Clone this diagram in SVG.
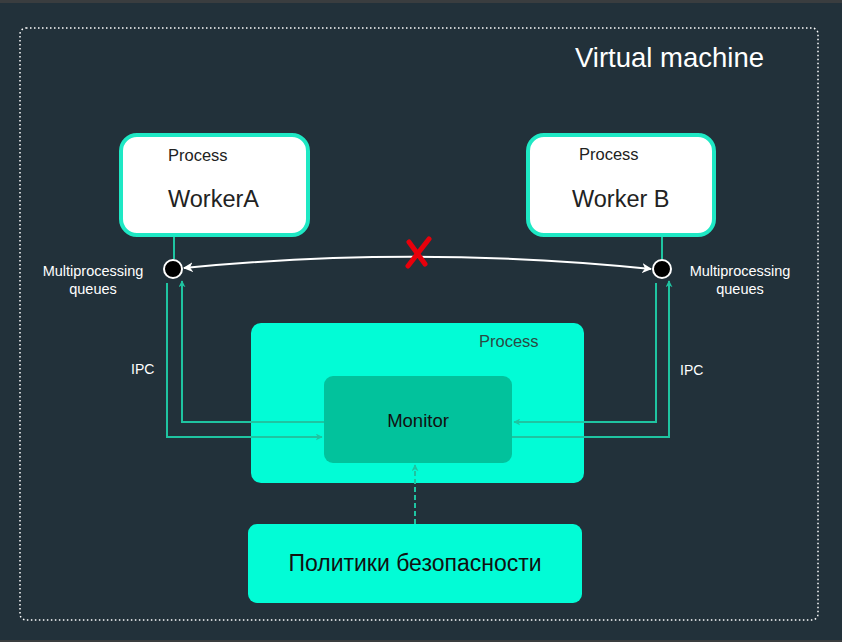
<svg xmlns="http://www.w3.org/2000/svg" width="842" height="642" viewBox="0 0 842 642">
<style>
text{font-family:"Liberation Sans",Arial,sans-serif}
.w{fill:#ffffff}
.conn{fill:none;stroke:#1fc4a1;stroke-width:2}
.worker{fill:#ffffff;stroke:#1ee8c4;stroke-width:4}
.q{fill:#000;stroke:#fff;stroke-width:2}
</style>
<defs>
<marker id="ta" viewBox="0 0 10 10" refX="9" refY="5" markerWidth="7" markerHeight="7" orient="auto-start-reverse" markerUnits="userSpaceOnUse">
<path d="M0,0 L10,5 L0,10 L3,5 Z" fill="#1fc4a1"/>
</marker>
<marker id="wa" viewBox="0 0 10 10" refX="9" refY="5" markerWidth="10" markerHeight="10" orient="auto-start-reverse" markerUnits="userSpaceOnUse">
<path d="M0,0 L10,5 L0,10 L3,5 Z" fill="#ffffff"/>
</marker>
</defs>
<rect x="0" y="0" width="842" height="642" fill="#3a3d3f"/>
<rect x="0" y="3" width="842" height="637" fill="#22313a"/>
<g id="vm">
<rect x="20" y="28" width="798" height="592" rx="6" fill="none" stroke="#ffffff" stroke-width="1.5" stroke-dasharray="1.5 2.5"/>
<text x="575" y="67" font-size="27.5" class="w">Virtual machine</text>
</g>
<g id="workerA">
<rect x="121" y="135" width="187" height="100" rx="16" class="worker"/>
<text x="168" y="161" font-size="16.5" fill="#222">Process</text>
<text x="168" y="207" font-size="23.5" fill="#222">WorkerA</text>
</g>
<g id="workerB">
<rect x="528" y="135" width="186" height="100" rx="16" class="worker"/>
<text x="579" y="160" font-size="16.5" fill="#222">Process</text>
<text x="572" y="207" font-size="23.5" fill="#222">Worker B</text>
</g>
<g id="process">
<rect x="251" y="323" width="333" height="160" rx="10" fill="#02fcd6"/>
<text x="479" y="347" font-size="16.5" fill="#2a4a44">Process</text>
</g>
<g id="monitor">
<rect x="324" y="376" width="188" height="87" rx="9" fill="#02c29c"/>
<text x="418" y="427" font-size="18.5" text-anchor="middle" fill="#111">Monitor</text>
</g>
<g id="policies">
<rect x="248" y="524" width="334" height="79" rx="9" fill="#02fcd6"/>
<text x="415" y="571" font-size="23" text-anchor="middle" fill="#111">Политики безопасности</text>
</g>
<g id="connectors">
<line x1="174" y1="237" x2="174" y2="259" class="conn"/>
<line x1="662" y1="237" x2="662" y2="259" class="conn"/>
<path d="M167,283 V437 H322" class="conn" marker-end="url(#ta)"/>
<path d="M324,422 H182 V281" class="conn" marker-end="url(#ta)"/>
<path d="M512,437 H669 V281" class="conn" marker-end="url(#ta)"/>
<path d="M656,283 V422 H514" class="conn" marker-end="url(#ta)"/>
<line x1="415" y1="524" x2="415" y2="465" class="conn" stroke-dasharray="5 3" marker-end="url(#ta)"/>
<path d="M184,268 Q417,245 651,269" fill="none" stroke="#ffffff" stroke-width="2" marker-start="url(#wa)" marker-end="url(#wa)"/>
<g stroke="#e8000b" stroke-width="5" stroke-linecap="round">
<line x1="409" y1="242" x2="425" y2="264"/>
<line x1="429" y1="239" x2="408" y2="266"/>
</g>
</g>
<g id="queueA">
<circle cx="173" cy="269" r="9" class="q"/>
<text x="93" y="276" font-size="14.5" text-anchor="middle" class="w">Multiprocessing</text>
<text x="93" y="294" font-size="14.5" text-anchor="middle" class="w">queues</text>
</g>
<g id="queueB">
<circle cx="662" cy="269" r="9" class="q"/>
<text x="740" y="276" font-size="14.5" text-anchor="middle" class="w">Multiprocessing</text>
<text x="740" y="294" font-size="14.5" text-anchor="middle" class="w">queues</text>
</g>
<text x="131" y="374" font-size="14" class="w">IPC</text>
<text x="680" y="375" font-size="14" class="w">IPC</text>
</svg>
